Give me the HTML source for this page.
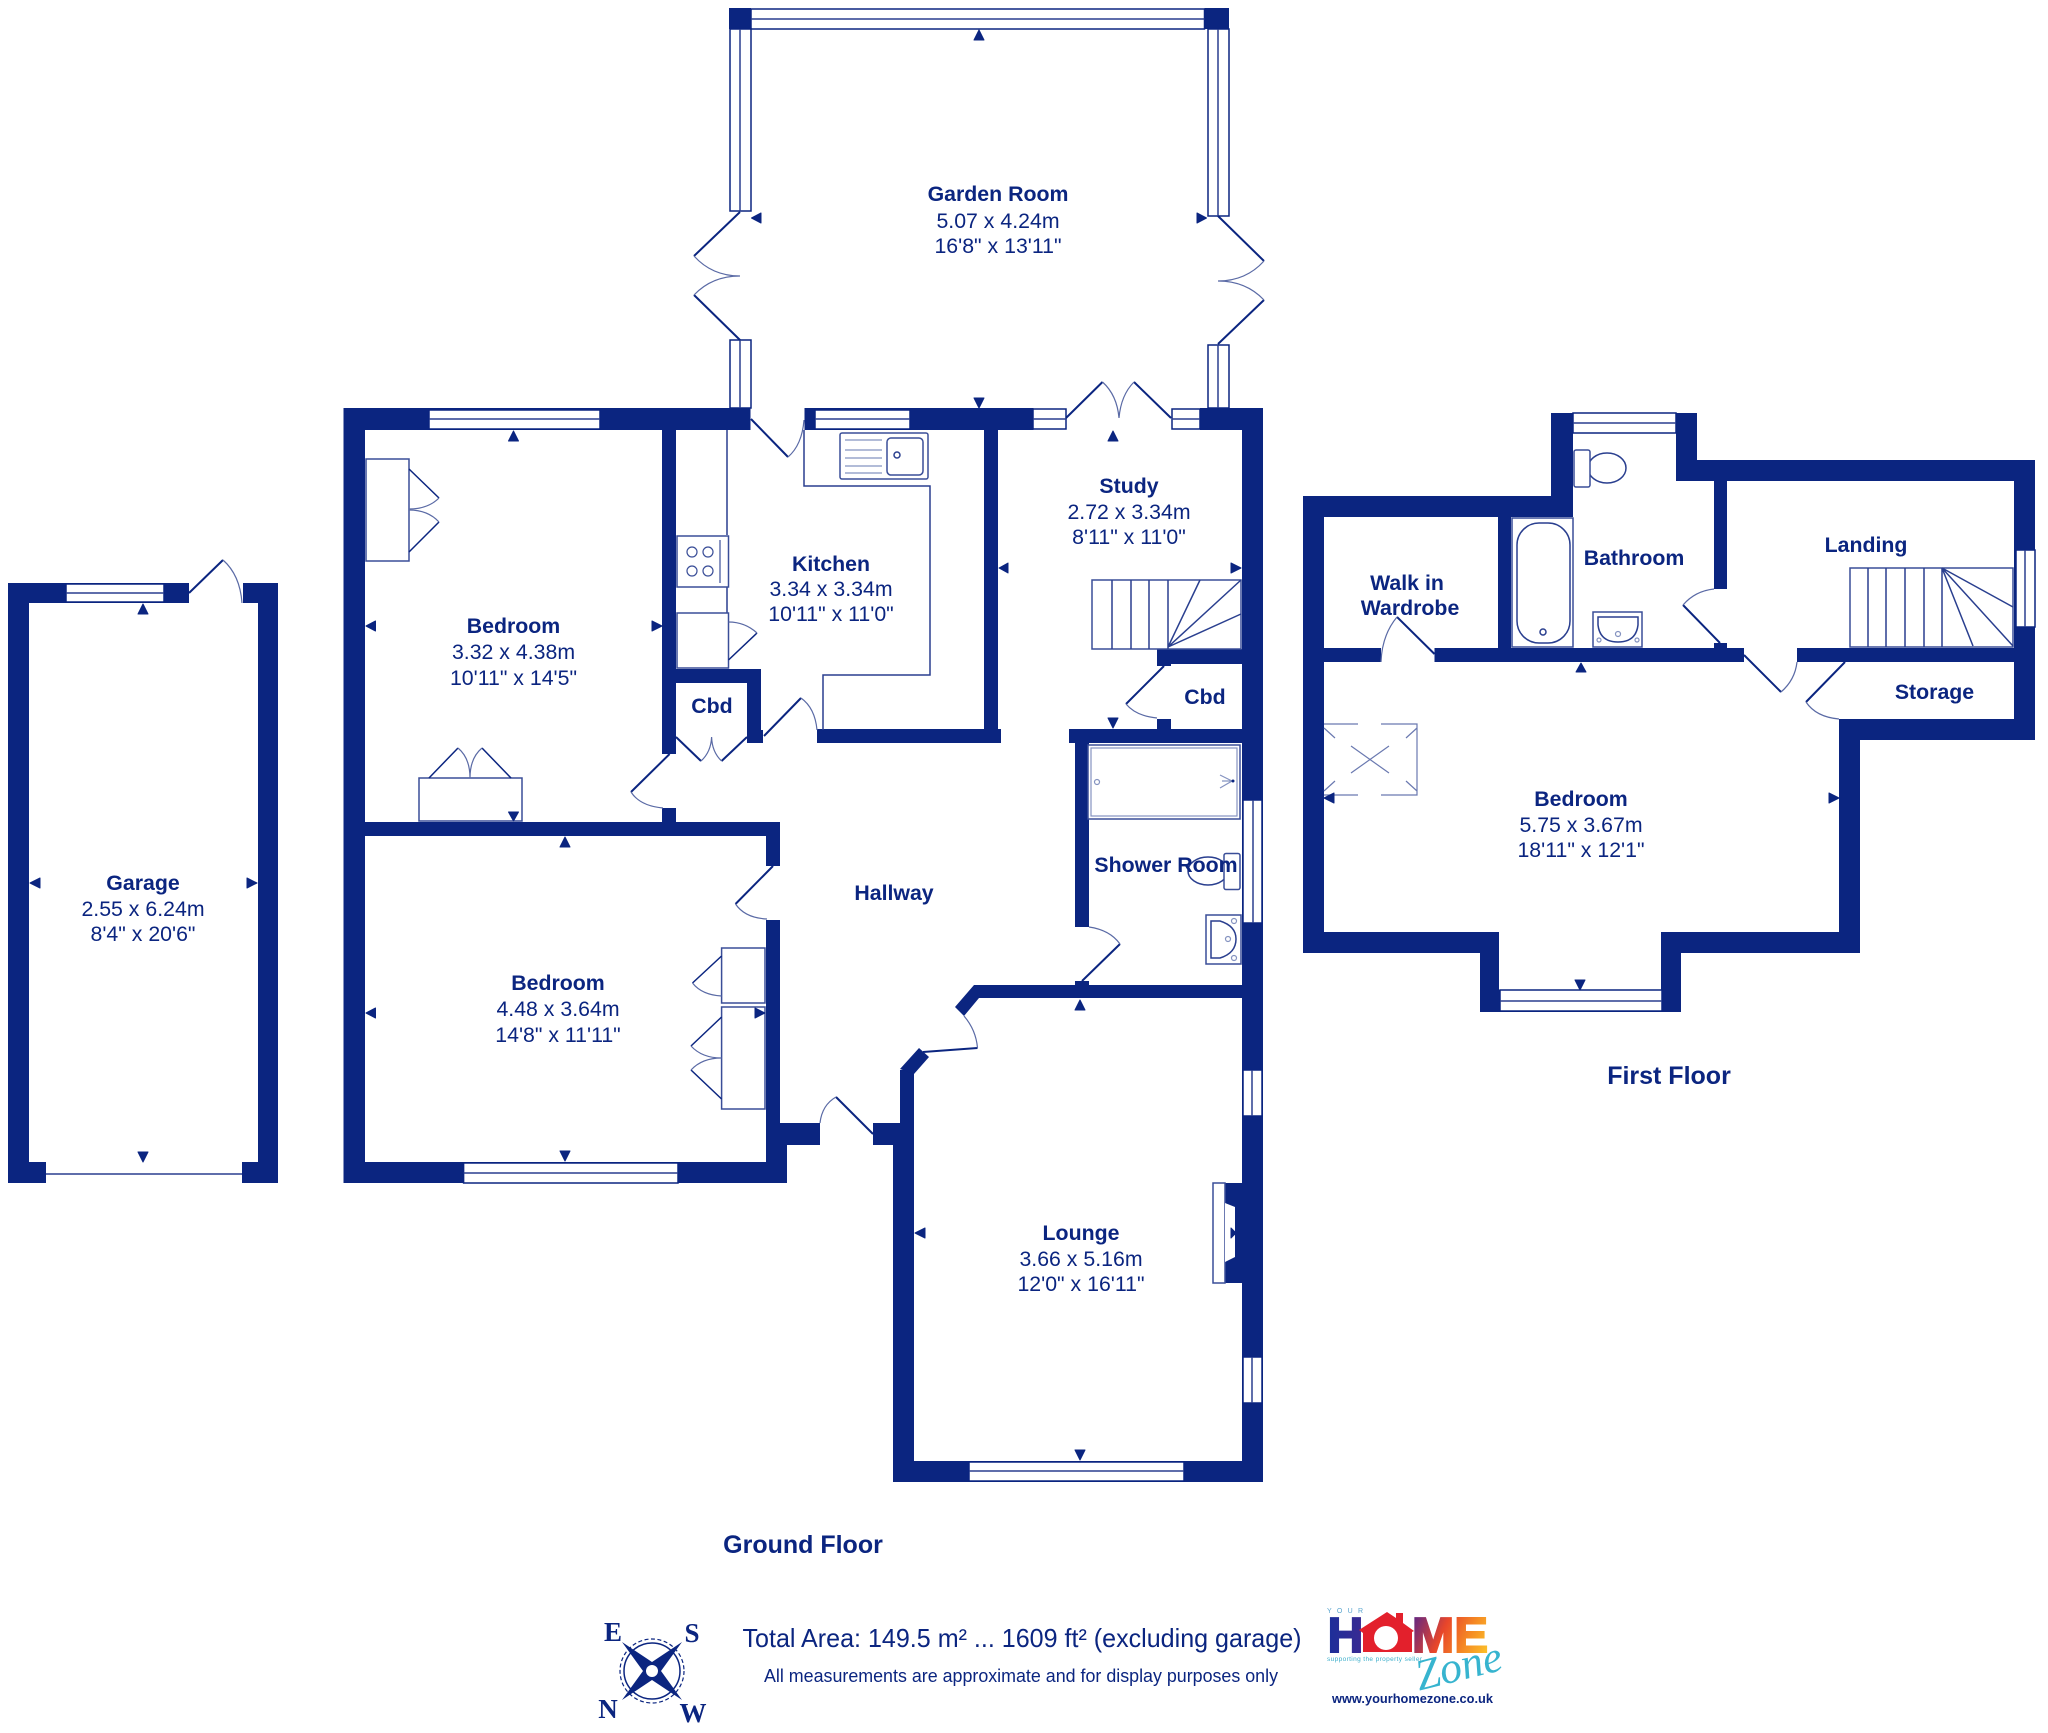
<!DOCTYPE html>
<html><head><meta charset="utf-8"><style>
html,body{margin:0;padding:0;background:#fff}
svg{display:block}
text{font-family:"Liberation Sans",sans-serif;fill:#0b2580;text-anchor:middle;font-size:21.3px}
.b{font-weight:bold}
.w{fill:#0b2580;stroke:none}
.win{fill:#fff;stroke:#0b2580;stroke-width:1.5}
.d{fill:none;stroke:#0b2580;stroke-width:2}
.a{fill:none;stroke:#5a6aa5;stroke-width:1.2}
.l{fill:none;stroke:#2a3f8f;stroke-width:1.5}
.t{fill:#fff;stroke:#3a4e98;stroke-width:1.5}
.g{fill:none;stroke:#8593c0;stroke-width:1.2}
.s{font-family:"Liberation Serif",serif;font-size:27px;font-weight:bold}
</style></head><body>
<svg width="2048" height="1733" viewBox="0 0 2048 1733" xmlns="http://www.w3.org/2000/svg">
<defs>
<linearGradient id="hg" gradientUnits="userSpaceOnUse" x1="1328" x2="1363" y1="0" y2="0"><stop offset="0" stop-color="#1c2f9a"/><stop offset="1" stop-color="#3a2a92"/></linearGradient>
<linearGradient id="mg" gradientUnits="userSpaceOnUse" x1="1412" x2="1490" y1="1616" y2="1652"><stop offset="0" stop-color="#5a2488"/><stop offset=".4" stop-color="#e8462a"/><stop offset=".7" stop-color="#f58a24"/><stop offset="1" stop-color="#fcc62a"/></linearGradient>
</defs>
<rect width="2048" height="1733" fill="#fff"/>

<!-- GARAGE -->
<g class="w">
<rect x="8" y="583" width="181" height="20"/><rect x="243" y="583" width="35" height="20"/>
<rect x="8" y="583" width="21" height="600"/><rect x="258" y="583" width="20" height="600"/>
<rect x="8" y="1162" width="38" height="21"/><rect x="242" y="1162" width="36" height="21"/>
</g>
<rect class="win" x="66" y="584" width="98" height="18"/><line class="l" x1="66" x2="164" y1="593" y2="593"/>
<path class="d" d="M189 593L223 560"/><path class="a" d="M223 560Q240 575 242 603"/>
<line class="l" x1="46" x2="242" y1="1174" y2="1174"/>

<!-- GARDEN ROOM -->
<g class="w"><rect x="729" y="8" width="22" height="21"/><rect x="1204.5" y="8" width="24.5" height="21"/></g>
<rect class="win" x="751" y="9" width="453.5" height="20"/><line class="l" x1="751" x2="1204.5" y1="19" y2="19"/>
<rect class="win" x="730" y="29" width="21" height="182"/><line class="l" x1="740" x2="740" y1="29" y2="211"/>
<rect class="win" x="1208" y="29" width="21" height="187"/><line class="l" x1="1218" x2="1218" y1="29" y2="216"/>
<rect class="win" x="730" y="340" width="21" height="68"/><line class="l" x1="740" x2="740" y1="340" y2="408"/>
<rect class="win" x="1208" y="345" width="21" height="63"/><line class="l" x1="1218" x2="1218" y1="345" y2="408"/>
<path class="d" d="M740 212L694 256M694 295L740 340M1218 216L1264 261M1264 300L1218 344"/>
<path class="a" d="M694 256Q712 276 740 276Q712 276 694 295M1264 261Q1246 281 1218 281Q1246 281 1264 300"/>

<!-- GROUND WALLS -->
<g class="w">
<rect x="343.5" y="409" width="21.5" height="774"/>
<rect x="343.5" y="408" width="407" height="22"/>
<rect x="662" y="430" width="14" height="324"/><rect x="662" y="808" width="14" height="14"/>
<rect x="343.5" y="822" width="436.5" height="14"/>
<rect x="766" y="836" width="14" height="30"/><rect x="766" y="920" width="14" height="225"/>
<rect x="343.5" y="1162" width="443.5" height="21"/><rect x="766" y="1145" width="21" height="38"/>
<rect x="766" y="1123" width="54" height="22"/>
<rect x="804.5" y="408" width="229" height="22"/>
<rect x="1200" y="408" width="63" height="22"/>
<rect x="1242" y="408" width="21" height="1074"/>
<rect x="984" y="430" width="14" height="299"/><rect x="817" y="729" width="184" height="14"/>
<rect x="676" y="669" width="85" height="14"/><rect x="747" y="669" width="14" height="74"/><rect x="747" y="730" width="16" height="13"/>
<rect x="1157" y="649" width="85" height="15"/><rect x="1157" y="649" width="14" height="17"/><rect x="1157" y="719" width="14" height="10"/>
<rect x="1069" y="729" width="173" height="14"/><rect x="1075" y="743" width="14" height="184"/>
<rect x="1075" y="981" width="14" height="5"/>
<polygon points="955,1007 974,985 1242,985 1242,998 979,998 964,1016"/>
<rect x="900" y="1070" width="14" height="53"/><rect x="893" y="1123" width="21" height="359"/>
<rect x="893" y="1461" width="370" height="21"/><rect x="873" y="1123" width="20" height="22"/>
<polygon points="900,1069 919,1048 929,1057 914,1074"/>
<rect x="1225" y="1183" width="17" height="100"/>
</g>

<!-- GROUND WINDOWS -->
<rect class="win" x="429" y="410" width="171" height="19"/><line class="l" x1="429" x2="600" y1="419" y2="419"/>
<rect class="win" x="815" y="410" width="95" height="19"/><line class="l" x1="815" x2="910" y1="419" y2="419"/>
<rect class="win" x="1033" y="409" width="33" height="20"/><line class="l" x1="1033" x2="1066" y1="419" y2="419"/>
<rect class="win" x="1172" y="409" width="28" height="20"/><line class="l" x1="1172" x2="1200" y1="419" y2="419"/>
<rect class="win" x="463.6" y="1163" width="214.4" height="20"/><line class="l" x1="463.6" x2="678" y1="1173" y2="1173"/>
<rect class="win" x="969" y="1462" width="215" height="19"/><line class="l" x1="969" x2="1184" y1="1471" y2="1471"/>
<rect class="win" x="1243" y="800" width="19" height="123"/><line class="l" x1="1253" x2="1253" y1="800" y2="923"/>
<rect class="win" x="1243" y="1070" width="19" height="46"/><line class="l" x1="1252" x2="1252" y1="1070" y2="1116"/>
<rect class="win" x="1243" y="1357" width="19" height="46"/><line class="l" x1="1252" x2="1252" y1="1357" y2="1403"/>

<!-- GROUND DOORS -->
<path class="d" d="M751 419L788 457M1066 418L1102.5 382M1171 418L1134 382M764 736L801 698M676 737L701 761M747 737L721.6 761M669.6 754L631 792M1164 666L1126 704M1082 981L1120 944M773 866L735.5 904M836 1097L873 1134M977.5 1048L923 1052"/>
<path class="a" d="M788 457Q802 445 804 420M1102.5 382Q1117 395 1119 418Q1121 395 1134 382M801 698Q815 708 817 730M701 761Q711 752 711.6 737Q712 752 721.6 761M631 792Q640 806 663 808M1126 704Q1136 716 1157 718M1120 944Q1110 930 1089 927M735.5 904Q745 918 767 919M836 1097Q822 1105 820 1123M964 1016Q976 1030 977.5 1048"/>

<!-- Bedroom 1 wardrobes -->
<rect class="t" x="366" y="459" width="43" height="102"/>
<path class="d" style="stroke-width:1.5" d="M409 469L439 498M409 552L439 522"/>
<path class="a" d="M439 498Q428 509 409 509M409 510Q428 510 439 522"/>
<rect class="t" x="419" y="778" width="103" height="43"/>
<path class="d" style="stroke-width:1.5" d="M429 778L458 748M511 778L482 748"/>
<path class="a" d="M458 748Q470 758 470 778Q470 758 482 748"/>

<!-- Kitchen -->
<path class="l" d="M727 430V535M727 587V613M804 430V486H930V675H823V730"/>
<rect class="t" x="677" y="536" width="51.5" height="51"/>
<g class="g" style="stroke:#3a4e98"><circle cx="692" cy="552" r="5"/><circle cx="708" cy="552" r="5"/><circle cx="692" cy="571" r="5"/><circle cx="708" cy="571" r="5"/><line x1="720" x2="720" y1="540" y2="583"/></g>
<rect class="t" x="677" y="613" width="51.5" height="55"/>
<path class="d" style="stroke-width:1.5" d="M728.5 660L757 633"/><path class="a" d="M757 633Q745 622 728.5 622"/>
<rect class="t" x="840" y="433" width="88" height="46" rx="2"/>
<rect class="t" x="887" y="438" width="36" height="37" rx="4"/>
<circle class="l" cx="897" cy="455" r="3"/>
<path class="g" d="M845 440H882M845 450H882M845 458H882M845 466H882M845 473H882"/>

<!-- Study stairs -->
<rect class="t" x="1092" y="580" width="149" height="69"/>
<path class="l" d="M1112 580V649M1131 580V649M1149 580V649M1168 580V649M1168 647L1200 580M1168 647L1241 580M1168 647L1241 614"/>

<!-- Shower room -->
<rect class="t" x="1088" y="745" width="152" height="74"/>
<rect class="g" x="1091" y="748" width="146" height="68"/>
<circle class="g" cx="1097" cy="782" r="2.5"/>
<path class="g" d="M1220 775L1232 781L1220 788M1222 781H1232"/><circle cx="1233" cy="781" r="1.5" fill="#0b2580"/>
<ellipse class="l" cx="1208" cy="871" rx="20" ry="14"/>
<rect class="t" x="1224" y="853.5" width="16" height="36" rx="2"/>
<rect class="t" x="1206" y="915" width="35" height="49"/>
<path class="l" d="M1211 921H1220Q1236 926 1236 939Q1236 953 1220 958H1211Z"/>
<circle class="g" cx="1228" cy="939" r="2.5"/><circle class="g" cx="1234" cy="921" r="2.5"/><circle class="g" cx="1234" cy="958" r="2.5"/>

<!-- Bedroom 2 wardrobes -->
<rect class="t" x="721.6" y="948" width="43.4" height="55"/>
<rect class="t" x="721.6" y="1007" width="43.4" height="102"/>
<path class="d" style="stroke-width:1.5" d="M721.6 956L692.5 983M721.6 1017L691 1046M721.6 1099L691 1070"/>
<path class="a" d="M692.5 983Q702 995 721.6 996M691 1046Q702 1058 721.6 1058Q702 1058 691 1070"/>

<!-- Fireplace -->
<rect class="t" x="1213" y="1183" width="12" height="100"/>
<polygon points="1225,1203 1235,1207 1235,1257 1225,1262" fill="#fff"/>

<!-- FIRST FLOOR -->
<g class="w">
<rect x="1303" y="496" width="270" height="21"/>
<rect x="1303" y="496" width="21" height="457"/>
<rect x="1303" y="932" width="196" height="21"/>
<rect x="1480" y="932" width="19" height="80"/>
<rect x="1480" y="990" width="201" height="22"/>
<rect x="1661" y="932" width="20" height="80"/>
<rect x="1661" y="932" width="199" height="21"/>
<rect x="1839" y="719" width="21" height="234"/>
<rect x="1839" y="719" width="196" height="21"/>
<rect x="2014" y="460" width="21" height="280"/>
<rect x="1676" y="460" width="359" height="21"/>
<rect x="1676" y="413" width="21" height="68"/>
<rect x="1551" y="413" width="22" height="104"/>
<rect x="1498" y="517" width="13" height="131"/>
<rect x="1714" y="481" width="13" height="108"/>
<rect x="1714" y="643" width="13" height="6"/>
<rect x="1324" y="648" width="57" height="14"/>
<rect x="1434.5" y="648" width="309.5" height="14"/>
<rect x="1797" y="648" width="217" height="14"/>
</g>
<rect class="win" x="1573" y="413" width="103" height="20"/><line class="l" x1="1573" x2="1676" y1="423" y2="423"/>
<rect class="win" x="2016" y="550" width="19" height="77"/><line class="l" x1="2025" x2="2025" y1="550" y2="627"/>
<rect class="win" x="1500" y="990" width="162" height="21"/><line class="l" x1="1500" x2="1662" y1="1001" y2="1001"/>
<path class="d" d="M1720 643L1683 605M1397 617L1434.5 654M1744 655L1781 692M1845 662L1806 702"/>
<path class="a" d="M1683 605Q1695 591 1714 589M1381 662Q1382 635 1397 617M1781 692Q1795 680 1797 662M1806 702Q1816 717 1839 719"/>
<rect class="t" x="1512" y="518" width="61" height="129"/>
<rect class="l" x="1517" y="523" width="53" height="120" rx="22"/>
<circle class="l" cx="1543" cy="632" r="3"/>
<rect class="t" x="1593" y="612" width="49" height="35"/>
<path class="l" d="M1598 617H1638V625Q1636 642 1618 642Q1600 642 1598 625Z"/>
<circle class="g" cx="1618" cy="634" r="2.5"/><circle class="g" cx="1599" cy="640" r="2"/><circle class="g" cx="1637" cy="640" r="2"/>
<ellipse class="l" cx="1607" cy="468" rx="19" ry="15"/>
<rect class="t" x="1574" y="450" width="16" height="37" rx="2"/>
<rect class="t" x="1850" y="568" width="163" height="79"/>
<path class="l" d="M1868 568V647M1886 568V647M1905 568V647M1924 568V647M1942 568V647M1942 568L2013 607M1942 568L2013 646M1942 568L1973 646"/>
<path class="g" style="stroke:#6a79b0" d="M1324 724H1358M1381 724H1417V795H1381M1358 795H1324M1351 746L1389 773M1389 746L1351 773M1324 728L1335 738M1417 728L1406 738M1324 791L1335 781M1417 791L1406 781"/>

<!-- ARROWS -->
<g fill="#0b2580" stroke="#0b2580" stroke-width="1" stroke-linejoin="round">
<polygon points="974,40 984,40 979,30"/><polygon points="974,398 984,398 979,408"/>
<polygon points="761,213 761,223 751.5,218"/><polygon points="1197,213 1197,223 1206.5,218"/>
<polygon points="1108,441 1118,441 1113,431"/>
<polygon points="508.5,441 518.5,441 513.5,431"/><polygon points="508.5,812 518.5,812 513.5,821"/>
<polygon points="375.5,621 375.5,631 366,626"/><polygon points="652,621 652,631 662,626"/>
<polygon points="1008,563 1008,573 999,568"/><polygon points="1231,563 1231,573 1241,568"/>
<polygon points="1108,718 1118,718 1113,728"/>
<polygon points="1075,1010 1085,1010 1080,1000"/>
<polygon points="560,847 570,847 565,837"/><polygon points="560,1151 570,1151 565,1161"/>
<polygon points="375.5,1008 375.5,1018 366,1013"/><polygon points="755,1008 755,1018 765,1013"/>
<polygon points="925,1228 925,1238 915,1233"/><polygon points="1231,1228 1231,1238 1236,1233"/>
<polygon points="1075,1450 1085,1450 1080,1460"/>
<polygon points="138,614 148,614 143,604"/><polygon points="138,1152 148,1152 143,1162"/>
<polygon points="40,878 40,888 30,883"/><polygon points="247,878 247,888 257,883"/>
<polygon points="1576,672 1586,672 1581,663"/><polygon points="1575,980 1585,980 1580,990"/>
<polygon points="1334,793 1334,803 1324,798"/><polygon points="1829,793 1829,803 1839,798"/>
</g>

<!-- LABELS -->
<text class="b" x="998" y="201">Garden Room</text><text x="998" y="228">5.07 x 4.24m</text><text x="998" y="253">16'8" x 13'11"</text>
<text class="b" x="513.5" y="633">Bedroom</text><text x="513.5" y="659">3.32 x 4.38m</text><text x="513.5" y="685">10'11" x 14'5"</text>
<text class="b" x="831" y="571">Kitchen</text><text x="831" y="596">3.34 x 3.34m</text><text x="831" y="621">10'11" x 11'0"</text>
<text class="b" x="1129" y="493">Study</text><text x="1129" y="519">2.72 x 3.34m</text><text x="1129" y="544">8'11" x 11'0"</text>
<text class="b" x="712" y="713">Cbd</text>
<text class="b" x="1205" y="704">Cbd</text>
<text class="b" x="1166" y="872">Shower Room</text>
<text class="b" x="894" y="900">Hallway</text>
<text class="b" x="558" y="990">Bedroom</text><text x="558" y="1016">4.48 x 3.64m</text><text x="558" y="1042">14'8" x 11'11"</text>
<text class="b" x="1081" y="1240">Lounge</text><text x="1081" y="1266">3.66 x 5.16m</text><text x="1081" y="1291">12'0" x 16'11"</text>
<text class="b" x="143" y="890">Garage</text><text x="143" y="916">2.55 x 6.24m</text><text x="143" y="941">8'4" x 20'6"</text>
<text class="b" x="1407" y="590">Walk in</text><text class="b" x="1410" y="615">Wardrobe</text>
<text class="b" x="1634" y="565">Bathroom</text>
<text class="b" x="1866" y="552">Landing</text>
<text class="b" x="1934.5" y="699">Storage</text>
<text class="b" x="1581" y="806">Bedroom</text><text x="1581" y="832">5.75 x 3.67m</text><text x="1581" y="857">18'11" x 12'1"</text>
<text class="b" x="1669" y="1084" style="font-size:25px">First Floor</text>
<text class="b" x="803" y="1553" style="font-size:25px">Ground Floor</text>

<!-- FOOTER -->
<text x="1022" y="1647" style="font-size:26px" textLength="559" lengthAdjust="spacingAndGlyphs">Total Area: 149.5 m² ... 1609 ft² (excluding garage)</text>
<text x="1021" y="1682" style="font-size:18.5px" textLength="514" lengthAdjust="spacingAndGlyphs">All measurements are approximate and for display purposes only</text>

<!-- Compass -->
<circle cx="652" cy="1671" r="32" fill="none" stroke="#0b2580" stroke-width="1.2" stroke-dasharray="4 2.5"/>
<circle cx="652" cy="1671" r="28" fill="none" stroke="#0b2580" stroke-width="1.5"/>
<polygon class="w" points="622,1642 652,1662 682,1642 661,1671 682,1700 652,1680 622,1700 643,1671"/>
<circle cx="652" cy="1671" r="6" fill="#fff"/>
<text x="613" y="1641" class="s">E</text>
<text x="692" y="1642" class="s">S</text>
<text x="608" y="1718" class="s">N</text>
<text x="693" y="1722" class="s">W</text>

<!-- Logo -->
<text x="1345" y="1613" textLength="36" lengthAdjust="spacing" style="font-size:7px;fill:#5aa5cf">YOUR</text>
<text x="1345.5" y="1652" class="b" style="font-size:49.4px;fill:url(#hg);stroke:url(#hg);stroke-width:2">H</text>
<polygon points="1359,1630 1387,1612 1396,1618 1396,1613 1403,1613 1403,1623 1414,1631 1412,1632 1412,1652 1363,1652 1363,1633" fill="#e3202c"/>
<circle cx="1386" cy="1638" r="12" fill="#fff"/>
<text x="1386" y="1652" class="b" style="font-size:1px;fill:#e3202c">O</text>
<text x="1450" y="1652" class="b" style="font-size:49.4px;fill:url(#mg);stroke:url(#mg);stroke-width:2" textLength="76" lengthAdjust="spacingAndGlyphs">ME</text>
<text x="1374.5" y="1661" textLength="95" lengthAdjust="spacing" style="font-size:6.5px;fill:#3fb0cc">supporting the property seller</text>
<text x="1462" y="1680" transform="rotate(-14 1462 1680)" style="font-family:'Liberation Serif',serif;font-style:italic;font-size:44px;fill:#37b4cf">Zone</text>
<text x="1412.5" y="1703" class="b" textLength="161" lengthAdjust="spacingAndGlyphs" style="font-size:12.5px">www.yourhomezone.co.uk</text>
</svg>
</body></html>
